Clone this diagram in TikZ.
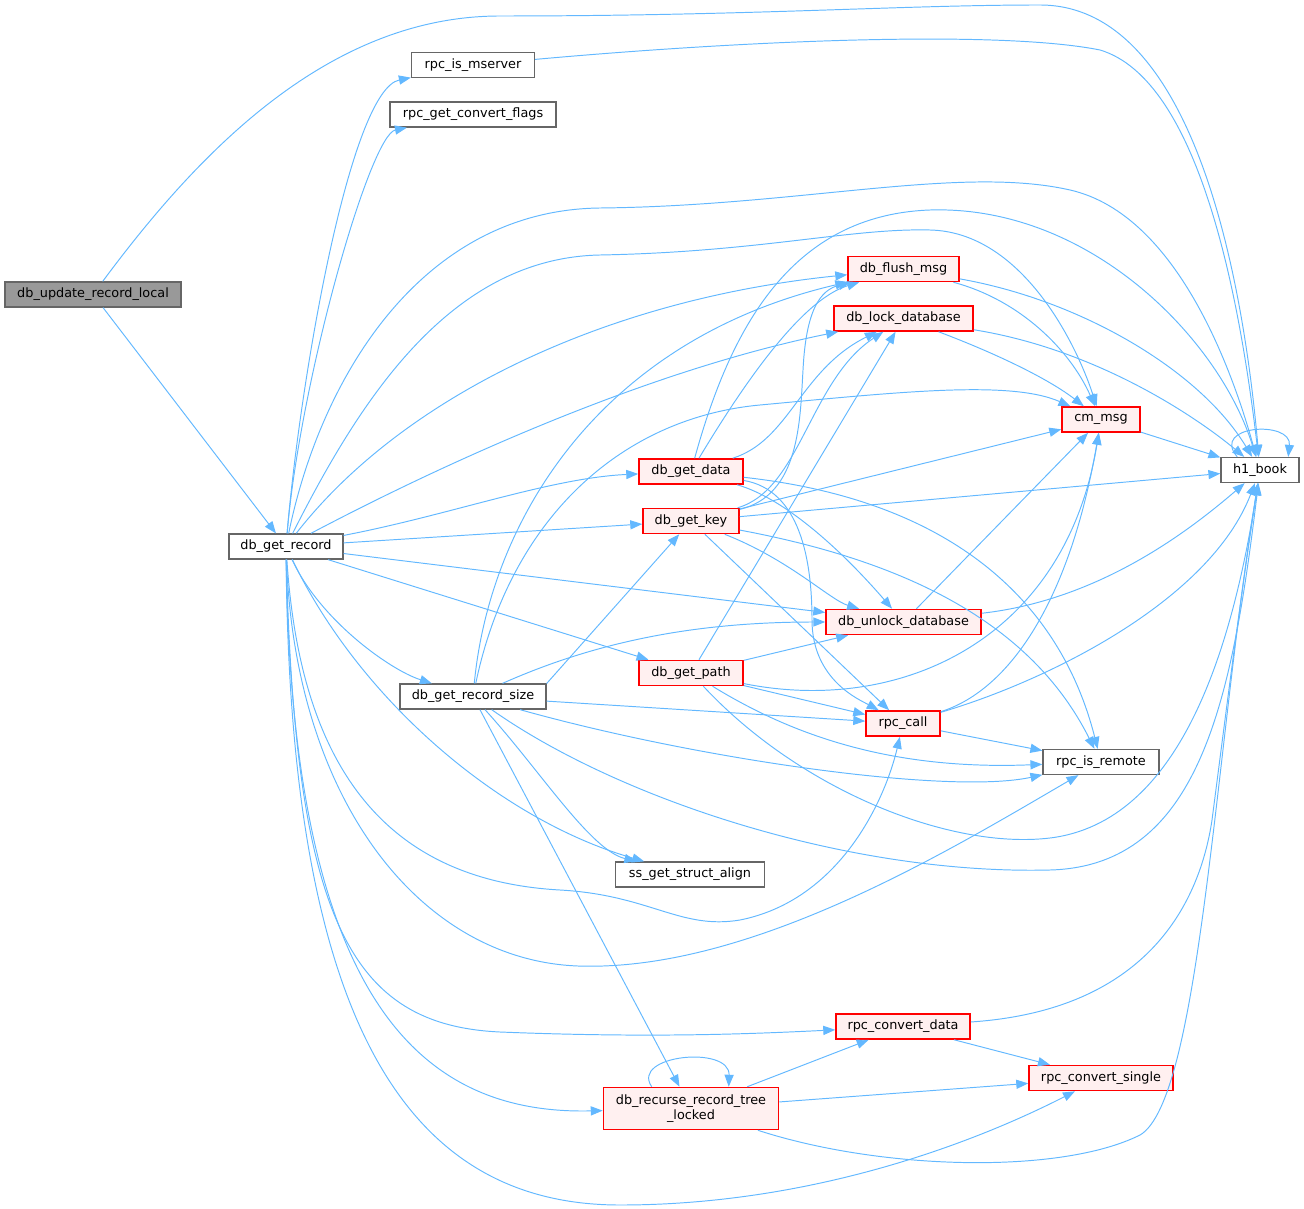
\documentclass[tikz,border=0pt]{standalone}
\usepackage{fontspec}
\setmainfont{DejaVu Sans}
\usetikzlibrary{arrows.meta}

\definecolor{edgeblue}{HTML}{63B8FF}
\definecolor{boxgray}{HTML}{666666}
\definecolor{rootgray}{HTML}{999999}
\definecolor{redfill}{HTML}{FFF0F0}

\tikzset{
    fn/.style={draw=boxgray, fill=white, line width=0.75pt, minimum height=0.5cm, inner sep=0pt,
        font=\fontsize{7.3}{8.6}\selectfont},
    fnred/.style={fn, draw=red, fill=redfill, line width=0.9pt},
    fnroot/.style={fn, fill=rootgray},
    edge/.style={draw=edgeblue, line width=0.55pt, -{Triangle[length=6.8pt, width=5.2pt]}},
}

\begin{document}
\begin{tikzpicture}[x=0.02cm, y=-0.02cm]
    % Canvas (1 unit = 1 px of the graph, y downwards)
    \useasboundingbox (0,0) rectangle (1304,1209);

    % Functions
    \node[fnroot, minimum width=3.52cm] (update) at (93,294.5) {db\_update\_record\_local};
    \node[fn, minimum width=2.28cm] (getrec) at (286,546.5) {db\_get\_record};
    \node[fn, minimum width=2.46cm] (mserver) at (473,65) {rpc\_is\_mserver};
    \node[fn, minimum width=3.32cm] (convflags) at (473,114.5) {rpc\_get\_convert\_flags};
    \node[fn, minimum width=2.92cm] (recsize) at (473,696.5) {db\_get\_record\_size};
    \node[fnred, minimum width=2.08cm] (getdata) at (691,471.5) {db\_get\_data};
    \node[fnred, minimum width=1.92cm] (getkey) at (691,521) {db\_get\_key};
    \node[fnred, minimum width=2.08cm] (getpath) at (691,673) {db\_get\_path};
    \node[fn, minimum width=2.98cm] (align) at (690,874.5) {ss\_get\_struct\_align};
    \node[fnred, minimum width=3.50cm, minimum height=0.84cm, align=center] (recurse) at (691,1108.5)
        {db\_recurse\_record\_tree\\\_locked};
    \node[fnred, minimum width=2.22cm] (flush) at (903.5,269) {db\_flush\_msg};
    \node[fnred, minimum width=2.78cm] (lock) at (903.5,318.5) {db\_lock\_database};
    \node[fnred, minimum width=3.10cm] (unlock) at (903.5,622) {db\_unlock\_database};
    \node[fnred, minimum width=1.48cm] (rpccall) at (903,723.5) {rpc\_call};
    \node[fnred, minimum width=2.68cm] (convdata) at (903,1026.5) {rpc\_convert\_data};
    \node[fnred, minimum width=1.56cm] (cmmsg) at (1101,419.5) {cm\_msg};
    \node[fn, minimum width=2.32cm] (isremote) at (1101,762) {rpc\_is\_remote};
    \node[fnred, minimum width=2.88cm] (convsingle) at (1101,1078) {rpc\_convert\_single};
    \node[fn, minimum width=1.56cm] (h1book) at (1260,470) {h1\_book};

    % db_update_record_local
    \draw[edge] (update) .. controls (200,150) and (330,16) .. (500,16)
        .. controls (750,16) and (900,5) .. (1040,5) .. controls (1200,5) and (1245,300) .. (h1book);
    \draw[edge] (update) -- (getrec);

    % db_get_record
    \draw[edge] (getrec) .. controls (300,380) and (350,90) .. (mserver);
    \draw[edge] (getrec) .. controls (300,380) and (370,135) .. (convflags);
    \draw[edge] (getrec) .. controls (320,380) and (420,210) .. (600,208)
        .. controls (800,206) and (960,165) .. (1070,190) .. controls (1180,215) and (1235,380) .. (h1book);
    \draw[edge] (getrec) .. controls (360,400) and (450,258) .. (600,255)
        .. controls (760,252) and (850,228) .. (930,230) .. controls (1020,232) and (1075,340) .. (cmmsg);
    \draw[edge] (getrec) .. controls (400,400) and (600,300) .. (flush);
    \draw[edge] (getrec) .. controls (450,460) and (650,370) .. (lock);
    \draw[edge] (getrec) .. controls (450,515) and (550,478) .. (getdata);
    \draw[edge] (getrec) -- (getkey);
    \draw[edge] (getrec) -- (unlock);
    \draw[edge] (getrec) -- (getpath);
    \draw[edge] (getrec) .. controls (320,620) and (390,670) .. (recsize);
    \draw[edge] (getrec) .. controls (360,700) and (500,820) .. (align);
    \draw[edge] (getrec) .. controls (300,760) and (380,880) .. (560,890)
        .. controls (650,895) and (680,930) .. (740,920) .. controls (840,900) and (885,800) .. (rpccall);
    \draw[edge] (getrec) .. controls (295,800) and (420,960) .. (578,966)
        .. controls (750,972) and (950,850) .. (isremote);
    \draw[edge] (getrec) .. controls (295,920) and (350,1025) .. (500,1032)
        .. controls (650,1038) and (750,1034) .. (convdata);
    \draw[edge] (getrec) .. controls (292,1000) and (420,1115) .. (recurse);
    \draw[edge] (getrec) .. controls (290,1010) and (400,1205) .. (620,1205)
        .. controls (800,1205) and (960,1150) .. (convsingle);

    % rpc_is_mserver
    \draw[edge] (mserver) .. controls (750,40) and (1000,30) .. (1100,50)
        .. controls (1200,80) and (1240,300) .. (h1book);

    % db_get_record_size
    \draw[edge] (recsize) .. controls (490,520) and (600,340) .. (flush);
    \draw[edge] (recsize) .. controls (510,520) and (620,418) .. (760,405)
        .. controls (900,392) and (1010,380) .. (cmmsg);
    \draw[edge] (recsize.10) -- (getkey);
    \draw[edge] (recsize) .. controls (600,640) and (700,622) .. (unlock);
    \draw[edge] (recsize) -- (rpccall);
    \draw[edge] (recsize) .. controls (700,760) and (950,795) .. (isremote);
    \draw[edge] (recsize) .. controls (620,800) and (850,875) .. (1050,870)
        .. controls (1200,866) and (1232,700) .. (h1book);
    \draw[edge] (recsize) .. controls (540,770) and (590,850) .. (align);
    \draw[edge] (recsize) -- (recurse);

    % db_get_data
    \draw[edge] (getdata) .. controls (740,390) and (800,300) .. (flush);
    \draw[edge] (getdata) .. controls (730,330) and (790,215) .. (930,210)
        .. controls (1090,205) and (1220,340) .. (h1book);
    \draw[edge] (getdata) .. controls (790,440) and (800,370) .. (lock);
    \draw[edge] (getdata) .. controls (790,500) and (850,560) .. (unlock);
    \draw[edge] (getdata) .. controls (800,490) and (812,560) .. (812,620)
        .. controls (812,680) and (860,700) .. (rpccall);
    \draw[edge] (getdata) .. controls (950,500) and (1060,600) .. (isremote);

    % db_get_key
    \draw[edge] (getkey) .. controls (800,495) and (800,420) .. (803,370)
        .. controls (806,310) and (820,290) .. (flush);
    \draw[edge] (getkey) .. controls (800,490) and (810,380) .. (lock);
    \draw[edge] (getkey) -- (cmmsg);
    \draw[edge] (getkey) -- (h1book);
    \draw[edge] (getkey) .. controls (790,560) and (830,600) .. (unlock);
    \draw[edge] (getkey) -- (rpccall);
    \draw[edge] (getkey) .. controls (900,560) and (1030,620) .. (isremote);

    % db_get_path
    \draw[edge] (getpath) -- (lock);
    \draw[edge] (getpath) -- (unlock);
    \draw[edge] (getpath) .. controls (900,715) and (1065,640) .. (cmmsg);
    \draw[edge] (getpath) -- (rpccall);
    \draw[edge] (getpath) .. controls (800,740) and (900,770) .. (isremote);
    \draw[edge] (getpath) .. controls (800,790) and (950,850) .. (1050,838)
        .. controls (1180,822) and (1232,650) .. (h1book);

    % db_flush_msg, db_lock_database, db_unlock_database
    \draw[edge] (flush) .. controls (1020,300) and (1070,350) .. (cmmsg);
    \draw[edge] (flush) .. controls (1080,300) and (1200,370) .. (h1book);
    \draw[edge] (lock) .. controls (1000,355) and (1050,380) .. (cmmsg);
    \draw[edge] (lock) .. controls (1100,350) and (1200,420) .. (h1book);
    \draw[edge] (unlock) -- (cmmsg);
    \draw[edge] (unlock) .. controls (1100,600) and (1190,530) .. (h1book);

    % cm_msg, rpc_call
    \draw[edge] (cmmsg) -- (h1book);
    \draw[edge] (rpccall) .. controls (1010,690) and (1070,600) .. (cmmsg);
    \draw[edge] (rpccall) .. controls (1050,680) and (1210,600) .. (h1book);
    \draw[edge] (rpccall) -- (isremote);

    % rpc_convert_data, db_recurse_record_tree_locked
    \draw[edge] (convdata) .. controls (1150,1010) and (1200,900) .. (1212,820)
        .. controls (1225,720) and (1240,600) .. (h1book);
    \draw[edge] (convdata) -- (convsingle);
    \draw[edge] (recurse) -- (convdata);
    \draw[edge] (recurse) -- (convsingle);
    \draw[edge] (recurse) .. controls (880,1170) and (1060,1175) .. (1140,1135)
        .. controls (1200,1100) and (1215,750) .. (h1book);

    % Self calls
    \draw[edge] (recurse.151) .. controls (630,1055) and (730,1045) .. (recurse.30);
    \draw[edge] (h1book.150) .. controls (1210,425) and (1292,420) .. (h1book.25);
\end{tikzpicture}
\end{document}
